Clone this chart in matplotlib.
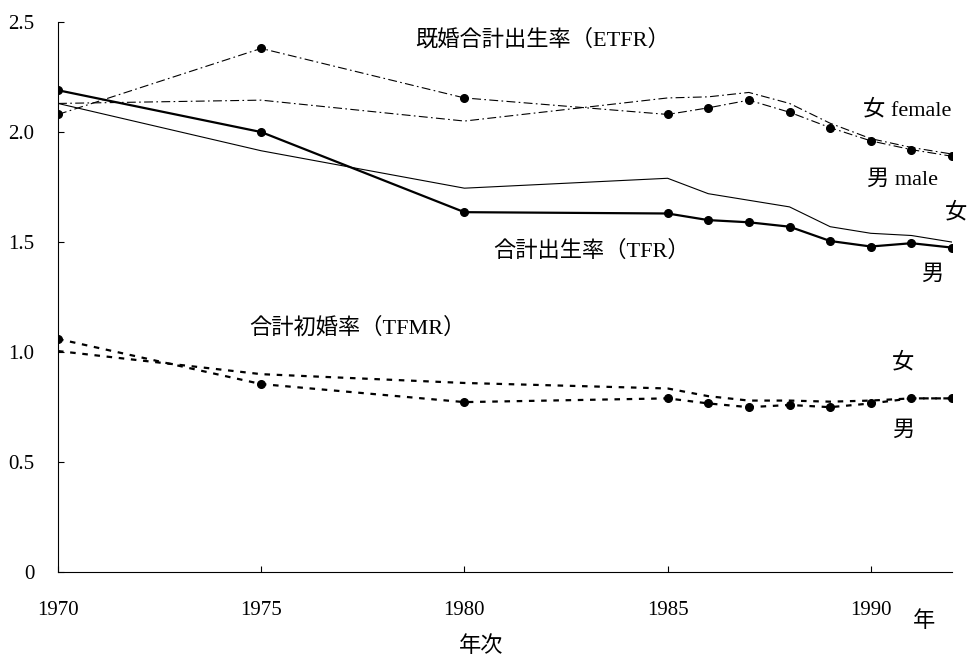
import numpy as np
import matplotlib.pyplot as plt

plt.rcParams['font.family'] = ['Liberation Serif', 'Noto Sans CJK JP']

years = [1970, 1975, 1980, 1985, 1986, 1987, 1988, 1989, 1990, 1991, 1992]

# 既婚合計出生率 (ETFR)
etfr_m = [2.08, 2.38, 2.155, 2.08, 2.11, 2.145, 2.09, 2.02, 1.96, 1.92, 1.89]
etfr_f = [2.13, 2.145, 2.05, 2.155, 2.16, 2.18, 2.13, 2.04, 1.97, 1.93, 1.90]
# 合計出生率 (TFR)
tfr_m = [2.19, 2.00, 1.636, 1.63, 1.60, 1.59, 1.57, 1.505, 1.48, 1.495, 1.475]
tfr_f = [2.13, 1.915, 1.745, 1.79, 1.72, 1.69, 1.66, 1.57, 1.54, 1.53, 1.50]
# 合計初婚率 (TFMR)
tfmr_m = [1.06, 0.855, 0.773, 0.79, 0.767, 0.75, 0.76, 0.75, 0.767, 0.79, 0.79]
tfmr_f = [1.005, 0.90, 0.86, 0.835, 0.80, 0.78, 0.78, 0.775, 0.78, 0.79, 0.79]

yticks = [0, 0.5, 1.0, 1.5, 2.0, 2.5]
ylabels = ['0', '0.5', '1.0', '1.5', '2.0', '2.5']
xticks = [1970, 1975, 1980, 1985, 1990]

fig = plt.figure(figsize=(9.75, 6.57), dpi=100)
ax = fig.add_axes([0.0595, 0.129, 0.917, 0.8375])

mk = dict(marker='o', markersize=5.5, markerfacecolor='black', markeredgecolor='black')
ax.plot(years, etfr_f, color='black', lw=0.8, ls=(0, (8, 3, 1.5, 3)))
ax.plot(years, etfr_m, color='black', lw=0.8, ls=(0, (8, 3, 1.5, 3)), **mk)
ax.plot(years, tfr_f, color='black', lw=0.8, ls='-')
ax.plot(years, tfr_m, color='black', lw=1.6, ls='-', **mk)
ax.plot(years, tfmr_f, color='black', lw=1.6, ls=(0, (2.5, 3)))
ax.plot(years, tfmr_m, color='black', lw=1.6, ls=(0, (2.5, 3)), **mk)

ax.set_xlim(1970, 1992)
ax.set_ylim(0, 2.5)
ax.spines['top'].set_visible(False)
ax.spines['right'].set_visible(False)
ax.set_yticks(yticks)
ax.set_yticklabels(ylabels)
ax.set_xticks(xticks)
ax.set_xticklabels([str(x) for x in xticks])
ax.tick_params(axis='y', direction='in', length=4, pad=17, labelsize=15)
ax.tick_params(axis='x', direction='in', length=4, pad=21, labelsize=15)

fs = 16
ax.text(1978.8, 2.42, '既婚合計出生率（ETFR）', fontsize=fs, va='center')
ax.text(1989.8, 2.10, '女 female', fontsize=fs, va='center')
ax.text(1989.9, 1.78, '男 male', fontsize=fs, va='center')
ax.text(1992.1, 1.63, '女', fontsize=fs, va='center', ha='center')
ax.text(1980.7, 1.46, '合計出生率（TFR）', fontsize=fs, va='center')
ax.text(1991.5, 1.35, '男', fontsize=fs, va='center', ha='center')
ax.text(1974.7, 1.11, '合計初婚率（TFMR）', fontsize=fs, va='center')
ax.text(1990.8, 0.95, '女', fontsize=fs, va='center', ha='center')
ax.text(1990.8, 0.64, '男', fontsize=fs, va='center', ha='center')
ax.text(1991.3, -0.225, '年', fontsize=fs, va='center', ha='center')
ax.text(1980.4, -0.34, '年次', fontsize=fs, va='center', ha='center')

plt.savefig('out.png')
